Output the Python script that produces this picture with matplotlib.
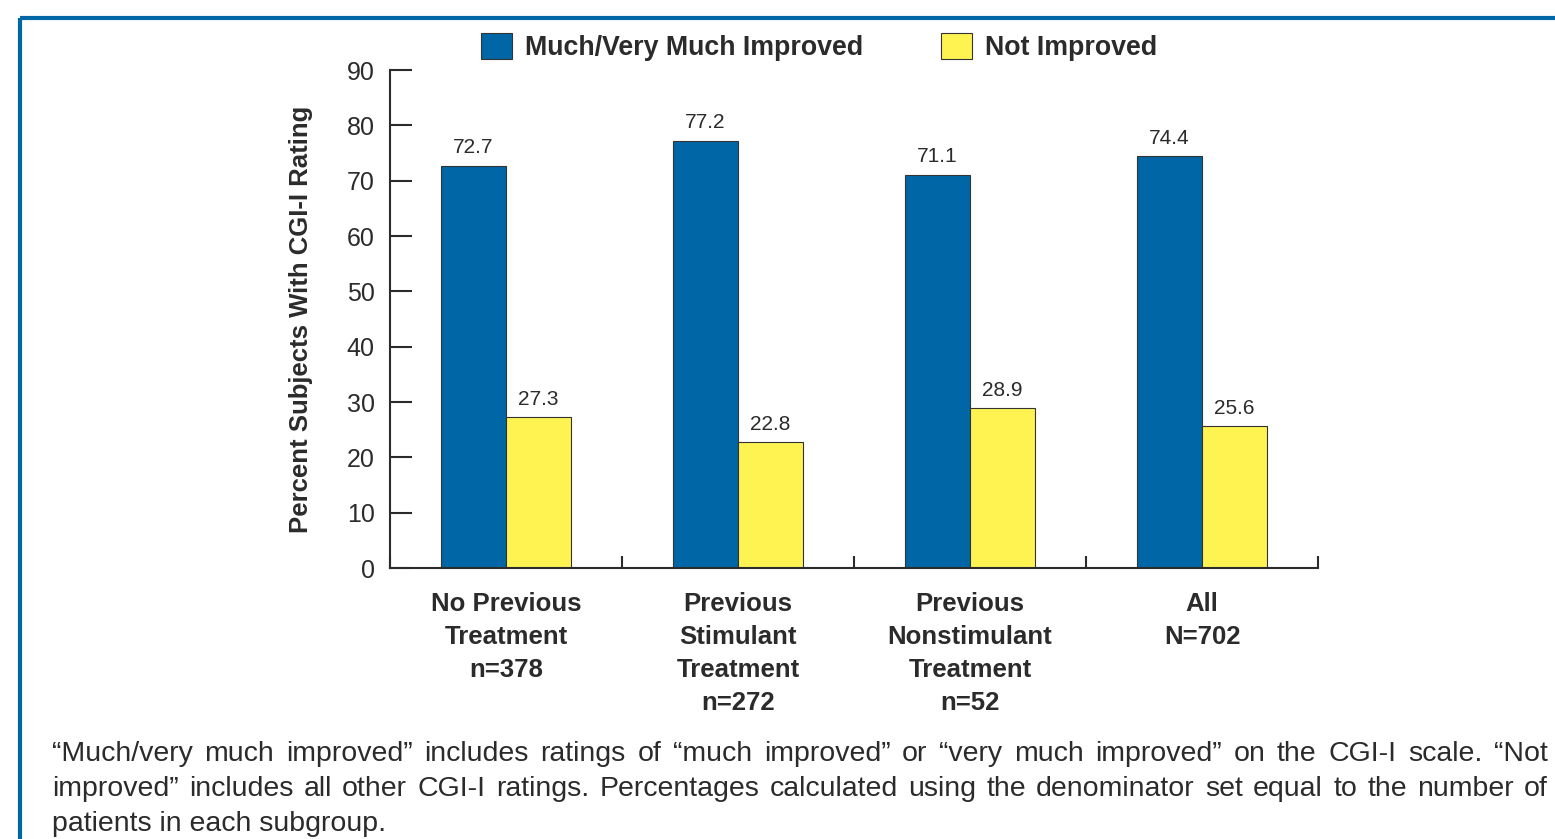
import matplotlib
matplotlib.use("Agg")
import matplotlib.pyplot as plt
import numpy as np
from matplotlib.lines import Line2D

plt.rcParams['font.family'] = ['Liberation Sans', 'DejaVu Sans']

groups = ["No Previous\nTreatment\nn=378",
          "Previous\nStimulant\nTreatment\nn=272",
          "Previous\nNonstimulant\nTreatment\nn=52",
          "All\nN=702"]
improved = [72.7, 77.2, 71.1, 74.4]
not_improved = [27.3, 22.8, 28.9, 25.6]
series_names = ["Much/Very Much Improved", "Not Improved"]
yticks = [0, 10, 20, 30, 40, 50, 60, 70, 80, 90]

footnote = [
    "\u201cMuch/very much improved\u201d includes ratings of \u201cmuch improved\u201d or \u201cvery much improved\u201d on the CGI-I scale. \u201cNot",
    "improved\u201d includes all other CGI-I ratings. Percentages calculated using the denominator set equal to the number of",
    "patients in each subgroup.",
]

BLUE = "#0066a6"
YELLOW = "#fff352"
DARK = "#2b2b2b"

W, H = 1555, 839
fig = plt.figure(figsize=(W / 100, H / 100), dpi=100)
ax = fig.add_axes([390 / W, 1 - 568 / H, 928 / W, 498 / H])

x = np.arange(len(groups)) + 0.5
bw = 65 / 232
b1 = ax.bar(x - bw / 2, improved, bw, color=BLUE, edgecolor="#333333", linewidth=0.8,
            label=series_names[0])
b2 = ax.bar(x + bw / 2, not_improved, bw, color=YELLOW, edgecolor="#333333", linewidth=0.8,
            label=series_names[1])
ax.bar_label(b1, fmt="%.1f", padding=6, fontsize=15, color=DARK)
ax.bar_label(b2, fmt="%.1f", padding=6, fontsize=15, color=DARK)

ax.set_xlim(0, len(groups))
ax.set_ylim(0, 90)
ax.set_yticks(yticks)
ax.tick_params(axis='y', direction='in', length=16, width=1.5, color=DARK,
               labelsize=18, pad=11, labelcolor=DARK)
ax.set_xticks(np.arange(len(groups) + 1))
ax.tick_params(axis='x', which='major', direction='in', length=9, width=1.5, color=DARK,
               labelbottom=False)
ax.set_xticks(x, minor=True)
ax.set_xticklabels(groups, minor=True, fontweight='bold', fontsize=18.5,
                   color=DARK, linespacing=1.48)
ax.tick_params(axis='x', which='minor', length=0, pad=17)

for s in ['top', 'right']:
    ax.spines[s].set_visible(False)
for s in ['left', 'bottom']:
    ax.spines[s].set_linewidth(1.5)
    ax.spines[s].set_color(DARK)

ax.set_ylabel("Percent Subjects With CGI-I Rating", fontsize=18.5, fontweight='bold',
              color=DARK)
ax.yaxis.set_label_coords(-77 / 928, 0.5)

ax.legend(loc='center left', bbox_to_anchor=(481 / W, 1 - 47 / H),
          bbox_transform=fig.transFigure, ncol=2, frameon=False,
          prop={'weight': 'bold', 'size': 19.3},
          handlelength=1.15, handleheight=1.15, handletextpad=0.5,
          columnspacing=2.9, borderpad=0, borderaxespad=0, labelcolor=DARK)

# blue frame around the figure body
fig.add_artist(Line2D([20 / W, 1], [1 - 18 / H, 1 - 18 / H], color=BLUE, lw=3,
                      transform=fig.transFigure, solid_capstyle='butt'))
fig.add_artist(Line2D([20 / W, 20 / W], [0, 1 - 18 / H], color=BLUE, lw=3,
                      transform=fig.transFigure, solid_capstyle='butt'))

# justified footnote
renderer = fig.canvas.get_renderer()
left, right = 52, 1548
baselines = [761, 796, 831]
fsize = 20.5
for i, line in enumerate(footnote):
    yb = 1 - baselines[i] / H
    if i == len(footnote) - 1:
        fig.text(left / W, yb, line, fontsize=fsize, color=DARK, va='baseline', ha='left')
        continue
    words = line.split(' ')
    texts = [fig.text(0, yb, w, fontsize=fsize, color=DARK, va='baseline', ha='left')
             for w in words]
    widths = [t.get_window_extent(renderer).width for t in texts]
    gap = (right - left - sum(widths)) / (len(words) - 1)
    xpos = left
    for t, w in zip(texts, widths):
        t.set_x(xpos / W)
        xpos += w + gap

fig.savefig("out.png", dpi=100)
